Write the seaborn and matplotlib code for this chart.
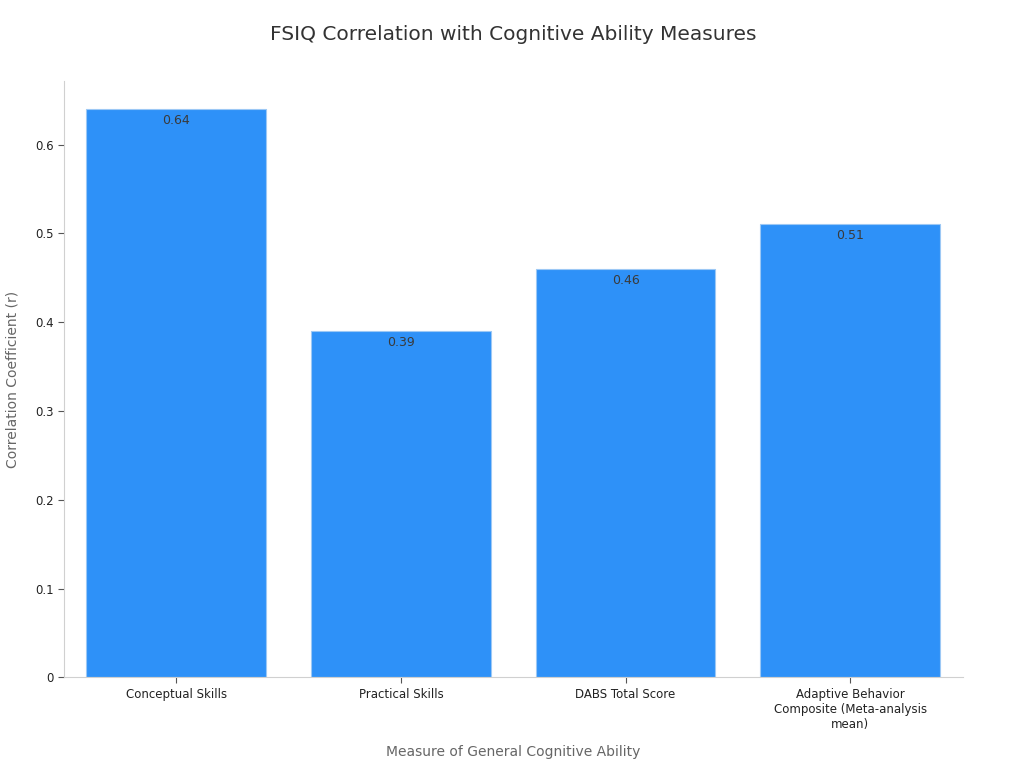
import matplotlib
matplotlib.use('Agg')
import matplotlib.pyplot as plt
import matplotlib.ticker as mticker
import seaborn as sns
import pandas as pd

measures = ['Conceptual Skills', 'Practical Skills', 'DABS Total Score',
            'Adaptive Behavior\nComposite (Meta-analysis\nmean)']
corr = [0.64, 0.39, 0.46, 0.51]

df = pd.DataFrame({'measure': measures, 'r': corr})

sns.set_style('white', {'xtick.bottom': True, 'ytick.left': True})
plt.rcParams['font.family'] = ['DejaVu Sans']

fig, ax = plt.subplots(figsize=(10.24, 7.68), dpi=100)
sns.barplot(data=df, x='measure', y='r', color='#2E91F8', saturation=1,
            width=0.8, edgecolor='#9CC8F5', linewidth=0.8, ax=ax)

for i, v in enumerate(corr):
    ax.annotate(f'{v:g}', (i, v), xytext=(0, -8), textcoords='offset points',
                ha='center', va='center', fontsize=9, color='#3a3a3a')

ax.set_xlim(-0.5, 3.5)
ax.set_ylim(0, 0.672)
ax.yaxis.set_major_formatter(mticker.FuncFormatter(lambda v, p: f'{v:g}'))
ax.set_xlabel('Measure of General Cognitive Ability', fontsize=10,
              color='#666666', labelpad=10)
ax.set_ylabel('Correlation Coefficient (r)', fontsize=10, color='#666666',
              labelpad=11)
ax.set_title('FSIQ Correlation with Cognitive Ability Measures', fontsize=14.5,
             color='#333333', pad=29)
ax.tick_params(axis='both', labelsize=8.5, colors='#555555', length=4,
               width=0.8)
ax.tick_params(axis='both', labelcolor='#222222')
sns.despine(ax=ax)
for s in ('left', 'bottom'):
    ax.spines[s].set_color('#d0d0d0')

fig.subplots_adjust(left=0.0625, right=0.94, top=0.895, bottom=0.118)
fig.savefig('out.png', dpi=100)
